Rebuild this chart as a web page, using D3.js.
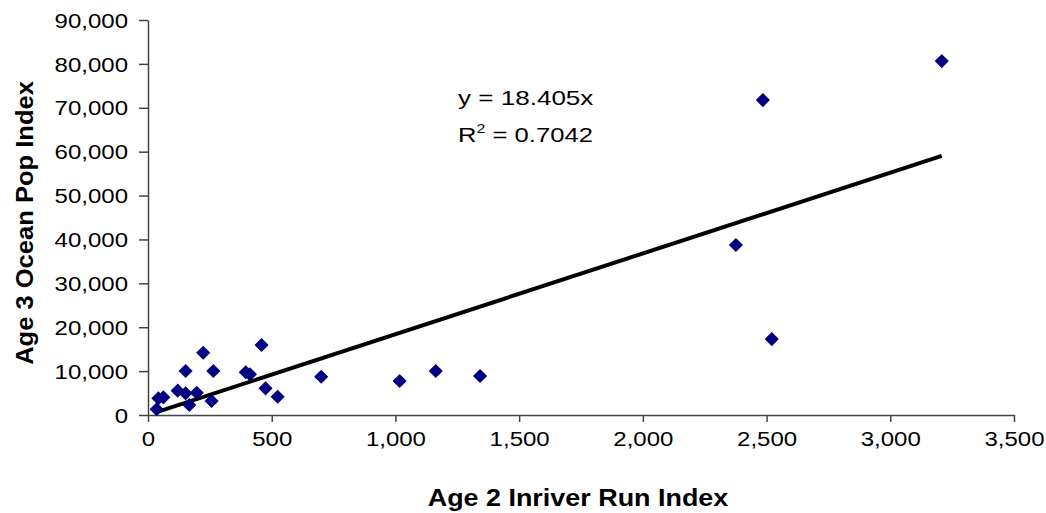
<!DOCTYPE html>
<html lang="en">
<head>
  <meta charset="UTF-8">
  <title>Age 3 Ocean Pop vs Age 2 Inriver Run</title>
  <script src="https://d3js.org/d3.v7.min.js"></script>
  <style>
    body { margin: 0; background: #fff; }
    text { font-family: "Liberation Sans", Arial, sans-serif; fill: #000; }
    .axis path, .axis line { stroke: #444; stroke-width: 1.5; }
  </style>
</head>
<body>
<script>
  // values
  var runIndex = [35, 42, 62, 120, 152, 152, 167, 197, 223, 257, 264, 395, 412, 459, 475, 524,
                  700, 1017, 1163, 1342, 2376, 2485, 2521, 3208]
  var popIndex = [1300, 3800, 4030, 5540, 4940, 10020, 2280, 5080, 14190, 3190, 10020, 9730, 9270, 15950, 6080, 4170,
                  8720, 7750, 10020, 8880, 38730, 71750, 17300, 80640]
  var xTicks = [0, 500, 1000, 1500, 2000, 2500, 3000, 3500]
  var yTicks = [0, 10000, 20000, 30000, 40000, 50000, 60000, 70000, 80000, 90000]
  var slope = 18.405
  var rSquared = '0.7042'

  var width = 1046, height = 513
  var plot = {left: 148, right: 1014, top: 20, bottom: 415}
  var stretchK = 1.2

  var svg = d3.select('body').append('svg').attr('width', width).attr('height', height)

  var x = d3.scaleLinear().domain([0, 3500]).range([plot.left, plot.right])
  var y = d3.scaleLinear().domain([0, 90000]).range([plot.bottom, plot.top])

  // text in the original is wider than it is tall
  function stretch(sel, k) {
    sel.each(function () {
      var w = this.getComputedTextLength()
      d3.select(this).attr('textLength', w * k).attr('lengthAdjust', 'spacingAndGlyphs')
    })
  }

  // axes
  var xAxis = svg.append('g').attr('class', 'axis')
    .attr('transform', 'translate(0,' + plot.bottom + ')')
    .call(d3.axisBottom(x).tickValues(xTicks).tickFormat(d3.format(',')).tickSize(7).tickSizeOuter(0))
  xAxis.selectAll('text').attr('font-size', 20).attr('dy', '1.05em')

  var yAxis = svg.append('g').attr('class', 'axis')
    .attr('transform', 'translate(' + plot.left + ',0)')
    .call(d3.axisLeft(y).tickValues(yTicks).tickFormat(d3.format(',')).tickSize(9).tickSizeOuter(0))
  yAxis.selectAll('text').attr('font-size', 20).attr('x', -20).attr('dy', '0.36em')

  svg.selectAll('.axis text').attr('fill', '#000').call(stretch, stretchK)

  // trend line through origin
  var xr = d3.extent(runIndex)
  svg.append('line')
    .attr('x1', x(xr[0])).attr('y1', y(xr[0] * slope))
    .attr('x2', x(xr[1])).attr('y2', y(xr[1] * slope))
    .attr('stroke', '#000').attr('stroke-width', 4)

  // points
  var pts = runIndex.map(function (d, i) { return [d, popIndex[i]] })
  svg.append('g').selectAll('path').data(pts).enter().append('path')
    .attr('d', d3.symbol(d3.symbolSquare, 100))
    .attr('transform', function (d) { return 'translate(' + x(d[0]) + ',' + y(d[1]) + ') rotate(45)' })
    .attr('fill', '#000080')

  // equation
  var eq1 = svg.append('text').attr('x', 458).attr('y', 105).attr('font-size', 21)
    .text('y = ' + slope + 'x')
  var eq2 = svg.append('text').attr('x', 458).attr('y', 142).attr('font-size', 21)
  eq2.append('tspan').text('R')
  eq2.append('tspan').attr('font-size', 13).attr('dy', -9).text('2')
  eq2.append('tspan').attr('dy', 9).text(' = ' + rSquared)
  stretch(eq1, 1.24)
  stretch(eq2, 1.22)

  // axis titles
  var xt = svg.append('text').attr('x', 578).attr('y', 506)
    .attr('text-anchor', 'middle').attr('font-size', 23).attr('font-weight', 'bold')
    .text('Age 2 Inriver Run Index')
  stretch(xt, 1.17)
  var yt = svg.append('text').attr('transform', 'translate(33,223) rotate(-90)')
    .attr('text-anchor', 'middle').attr('font-size', 23).attr('font-weight', 'bold')
    .text('Age 3 Ocean Pop Index')
  stretch(yt, 1.11)
</script>
</body>
</html>
